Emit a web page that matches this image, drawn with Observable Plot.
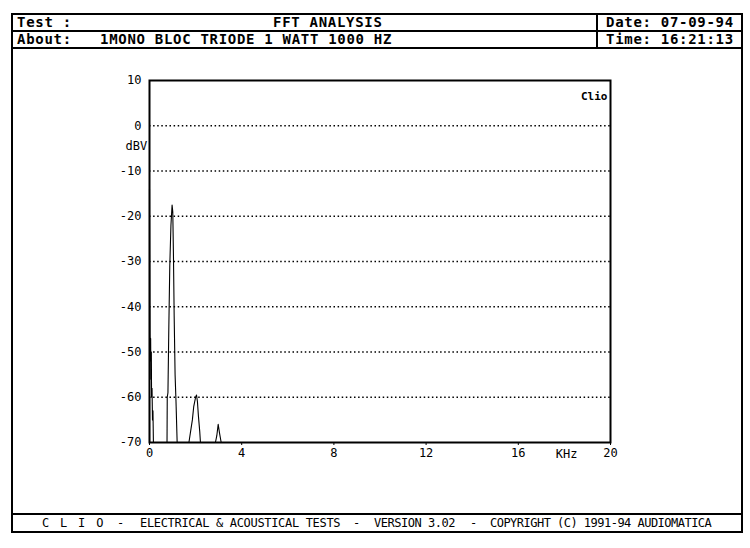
<!DOCTYPE html>
<html><head><meta charset="utf-8">
<script src="https://cdn.jsdelivr.net/npm/d3@7"></script>
<script src="https://cdn.jsdelivr.net/npm/@observablehq/plot@0.6"></script>
<style>
html,body{margin:0;padding:0;background:#fff;}
#page{position:relative;width:750px;height:548px;overflow:hidden;background:#fff;font-family:"DejaVu Sans Mono",monospace;color:#000;}
.hl{position:absolute;height:2px;background:#000;}
.vl{position:absolute;width:2px;background:#000;}
.t{position:absolute;white-space:pre;font-weight:bold;font-size:14px;letter-spacing:0.7px;line-height:16px;}
.f{position:absolute;white-space:pre;font-size:12px;line-height:14px;}
#chart{position:absolute;left:0;top:48px;}
</style></head><body>
<div id="page">
  <div class="hl" style="left:11px;top:13px;width:732px"></div>
  <div class="hl" style="left:11px;top:30px;width:732px"></div>
  <div class="hl" style="left:11px;top:47px;width:732px"></div>
  <div class="hl" style="left:11px;top:513px;width:732px"></div>
  <div class="hl" style="left:11px;top:531px;width:732px"></div>
  <div class="vl" style="left:11px;top:13px;height:520px"></div>
  <div class="vl" style="left:741px;top:13px;height:520px"></div>
  <div class="vl" style="left:596px;top:13px;height:35px"></div>
  <div id="hdr"></div>
  <div id="chart"></div>
  <div id="ftr"></div>
</div>
<script>
// ---- data ----
const headerTest = "Test :";
const headerTitle = "FFT ANALYSIS";
const headerDate = "Date: 07-09-94";
const headerAbout = "About:";
const headerDesc = "1MONO BLOC TRIODE 1 WATT 1000 HZ";
const headerTime = "Time: 16:21:13";
const footerParts = ["C L I O", "-", "ELECTRICAL & ACOUSTICAL TESTS", "-", "VERSION 3.02", "-", "COPYRIGHT (C) 1991-94 AUDIOMATICA"];

const freqKHz = [0, 0, 0.02, 0.03, 0.05, 0.06, 0.08, 0.09, 0.11, 0.13, 0.15, 0.17,
  0.76, 0.77, 0.80, 0.84, 0.88, 0.93, 0.98, 1.01, 1.04, 1.07, 1.11, 1.15, 1.20,
  1.71, 1.80, 1.86, 1.92, 2.00, 2.04, 2.08, 2.12, 2.18, 2.21,
  2.86, 2.92, 2.98, 3.04, 3.11, 20];
const levelDBV = [-70, -14, -46, -52, -47, -56, -50, -60, -58, -65, -63, -70,
  -70, -60, -59, -44, -31, -22, -17.5, -19, -29, -42, -55, -61, -70,
  -70, -67, -65, -62, -60, -59.5, -61, -64, -67.6, -70,
  -70, -68.5, -66, -68, -70, -70];
const gridLevels = [0, -10, -20, -30, -40, -50, -60];
const xTicks = [0, 4, 8, 12, 16, 20];
const yTicks = [10, 0, -10, -20, -30, -40, -50, -60, -70];
const yUnit = "dBV";
const xUnit = "KHz";
const brand = "Clio";

// ---- header / footer ----
const hdr = document.getElementById("hdr");
function addText(parent, cls, txt, left, top, extra) {
  const s = document.createElement("div");
  s.className = cls; s.textContent = txt;
  s.style.left = left + "px"; s.style.top = top + "px";
  if (extra) Object.assign(s.style, extra);
  parent.appendChild(s);
  return s;
}
addText(hdr, "t", headerTest, 17, 14);
addText(hdr, "t", headerTitle, 273, 14);
addText(hdr, "t", headerDate, 606, 14);
addText(hdr, "t", headerAbout, 17, 31);
addText(hdr, "t", headerDesc, 100, 31);
addText(hdr, "t", headerTime, 606, 31);

const ftr = document.getElementById("ftr");
const fLeft = [42, 117, 140, 353, 374, 470, 490];
const fSpacing = ["1.8px", "0", "-0.32px", "0", "-0.47px", "0", "-0.52px"];
footerParts.forEach((p, i) => addText(ftr, "f", p, fLeft[i], 516, {letterSpacing: fSpacing[i]}));

// ---- chart ----
const spectrum = freqKHz.map((f, i) => ({f, db: levelDBV[i]}));
const chart = Plot.plot({
  width: 750, height: 465,
  marginLeft: 149, marginRight: 140, marginTop: 32, marginBottom: 71,
  x: {domain: [0, 20], ticks: xTicks, label: null, tickSize: 3, tickPadding: 3, tickFormat: d => String(d)},
  y: {domain: [-70, 10], ticks: yTicks, label: null, tickSize: 0, tickPadding: 8, tickFormat: d => String(d)},
  style: {fontFamily: "DejaVu Sans Mono, monospace", fontSize: "12px", background: "transparent", color: "black", overflow: "visible"},
  marks: [
    Plot.ruleY(gridLevels, {stroke: "black", strokeWidth: 1.4, strokeDasharray: "1.5,2.6"}),
    Plot.line(spectrum, {x: "f", y: "db", stroke: "black", strokeWidth: 1.1}),
    Plot.frame({stroke: "black", strokeWidth: 2}),
    Plot.text([yUnit], {frameAnchor: "left", y: [-4.6], text: d => d, dx: -24, fontSize: 12}),
    Plot.text([xUnit], {x: [18.1], y: [-70], text: d => d, dy: 12, fontSize: 12}),
    Plot.text([brand], {frameAnchor: "top-right", text: d => d, dx: -3, dy: 12, textAnchor: "end", fontWeight: "bold", fontSize: 11})
  ]
});
document.getElementById("chart").appendChild(chart);
</script>
</body></html>
